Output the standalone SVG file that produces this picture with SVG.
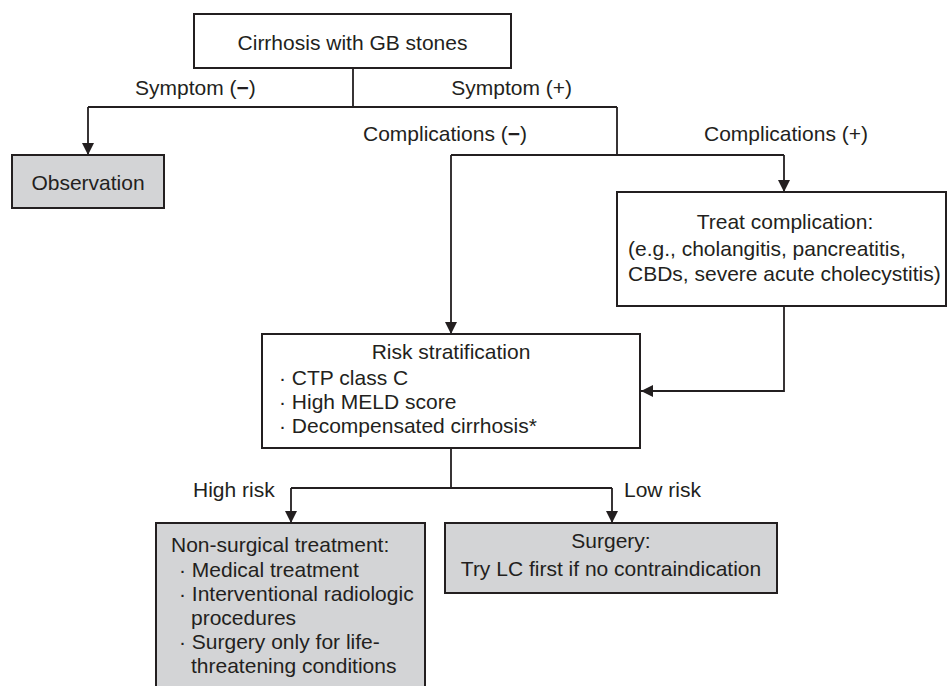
<svg xmlns="http://www.w3.org/2000/svg" width="948" height="686" viewBox="0 0 948 686">
<style>
text{font-family:"Liberation Sans",Arial,Helvetica,sans-serif;font-size:21px;fill:#231f20}
.c{text-anchor:middle}
.box{fill:#fff;stroke:#231f20;stroke-width:2}
.gray{fill:#d3d4d6;stroke:#231f20;stroke-width:2}
.ln{fill:none;stroke:#231f20;stroke-width:1.8}
.b{font-weight:bold}
</style>
<defs>
<marker id="ah" markerWidth="12" markerHeight="12" viewBox="0 0 12 12" refX="12" refY="6" orient="auto" markerUnits="userSpaceOnUse">
<path d="M0,0 L12,6 L0,12 Z" fill="#231f20"/>
</marker>
</defs>
<rect width="948" height="686" fill="#fff"/>
<g id="connectors">
<path class="ln" d="M353,68 V107"/>
<path class="ln" d="M88,107 H617"/>
<path class="ln" d="M88,107 V155" marker-end="url(#ah)"/>
<path class="ln" d="M617,107 V155"/>
<path class="ln" d="M451,155 H784"/>
<path class="ln" d="M451,155 V334" marker-end="url(#ah)"/>
<path class="ln" d="M784,155 V192" marker-end="url(#ah)"/>
<path class="ln" d="M784,306 V391 H641" marker-end="url(#ah)"/>
<path class="ln" d="M451,448 V488"/>
<path class="ln" d="M291,488 H612"/>
<path class="ln" d="M291,488 V523" marker-end="url(#ah)"/>
<path class="ln" d="M612,488 V523" marker-end="url(#ah)"/>
<text x="135" y="95">Symptom (<tspan class="b">−</tspan>)</text>
<text x="572" y="95" text-anchor="end">Symptom (+)</text>
<text x="363" y="141">Complications (<tspan class="b">−</tspan>)</text>
<text x="704" y="141">Complications (+)</text>
<text x="193" y="497">High risk</text>
<text x="624" y="497">Low risk</text>
</g>
<g id="start">
<rect class="box" x="194" y="14" width="317" height="54"/>
<text class="c" x="352.5" y="49.5">Cirrhosis with GB stones</text>
</g>
<g id="observation">
<rect class="gray" x="12" y="155" width="152" height="53"/>
<text class="c" x="88" y="190">Observation</text>
</g>
<g id="treat">
<rect class="box" x="617" y="192" width="329" height="114"/>
<text class="c" x="785" y="229">Treat complication:</text>
<text x="628" y="256">(e.g., cholangitis, pancreatitis,</text>
<text x="628" y="281">CBDs, severe acute cholecystitis)</text>
</g>
<g id="risk">
<rect class="box" x="262" y="334" width="378" height="114"/>
<text class="c" x="451" y="359">Risk stratification</text>
<text x="279" y="385">· CTP class C</text>
<text x="279" y="409">· High MELD score</text>
<text x="279" y="433">· Decompensated cirrhosis*</text>
</g>
<g id="nonsurgical">
<rect class="gray" x="156" y="523" width="269" height="170"/>
<text x="171" y="552">Non-surgical treatment:</text>
<text x="179" y="577">· Medical treatment</text>
<text x="179" y="601">· Interventional radiologic</text>
<text x="191" y="625">procedures</text>
<text x="179" y="649">· Surgery only for life-</text>
<text x="191" y="673">threatening conditions</text>
</g>
<g id="surgery">
<rect class="gray" x="445" y="523" width="332" height="70"/>
<text class="c" x="611" y="548">Surgery:</text>
<text class="c" x="611" y="576">Try LC first if no contraindication</text>
</g>
</svg>
